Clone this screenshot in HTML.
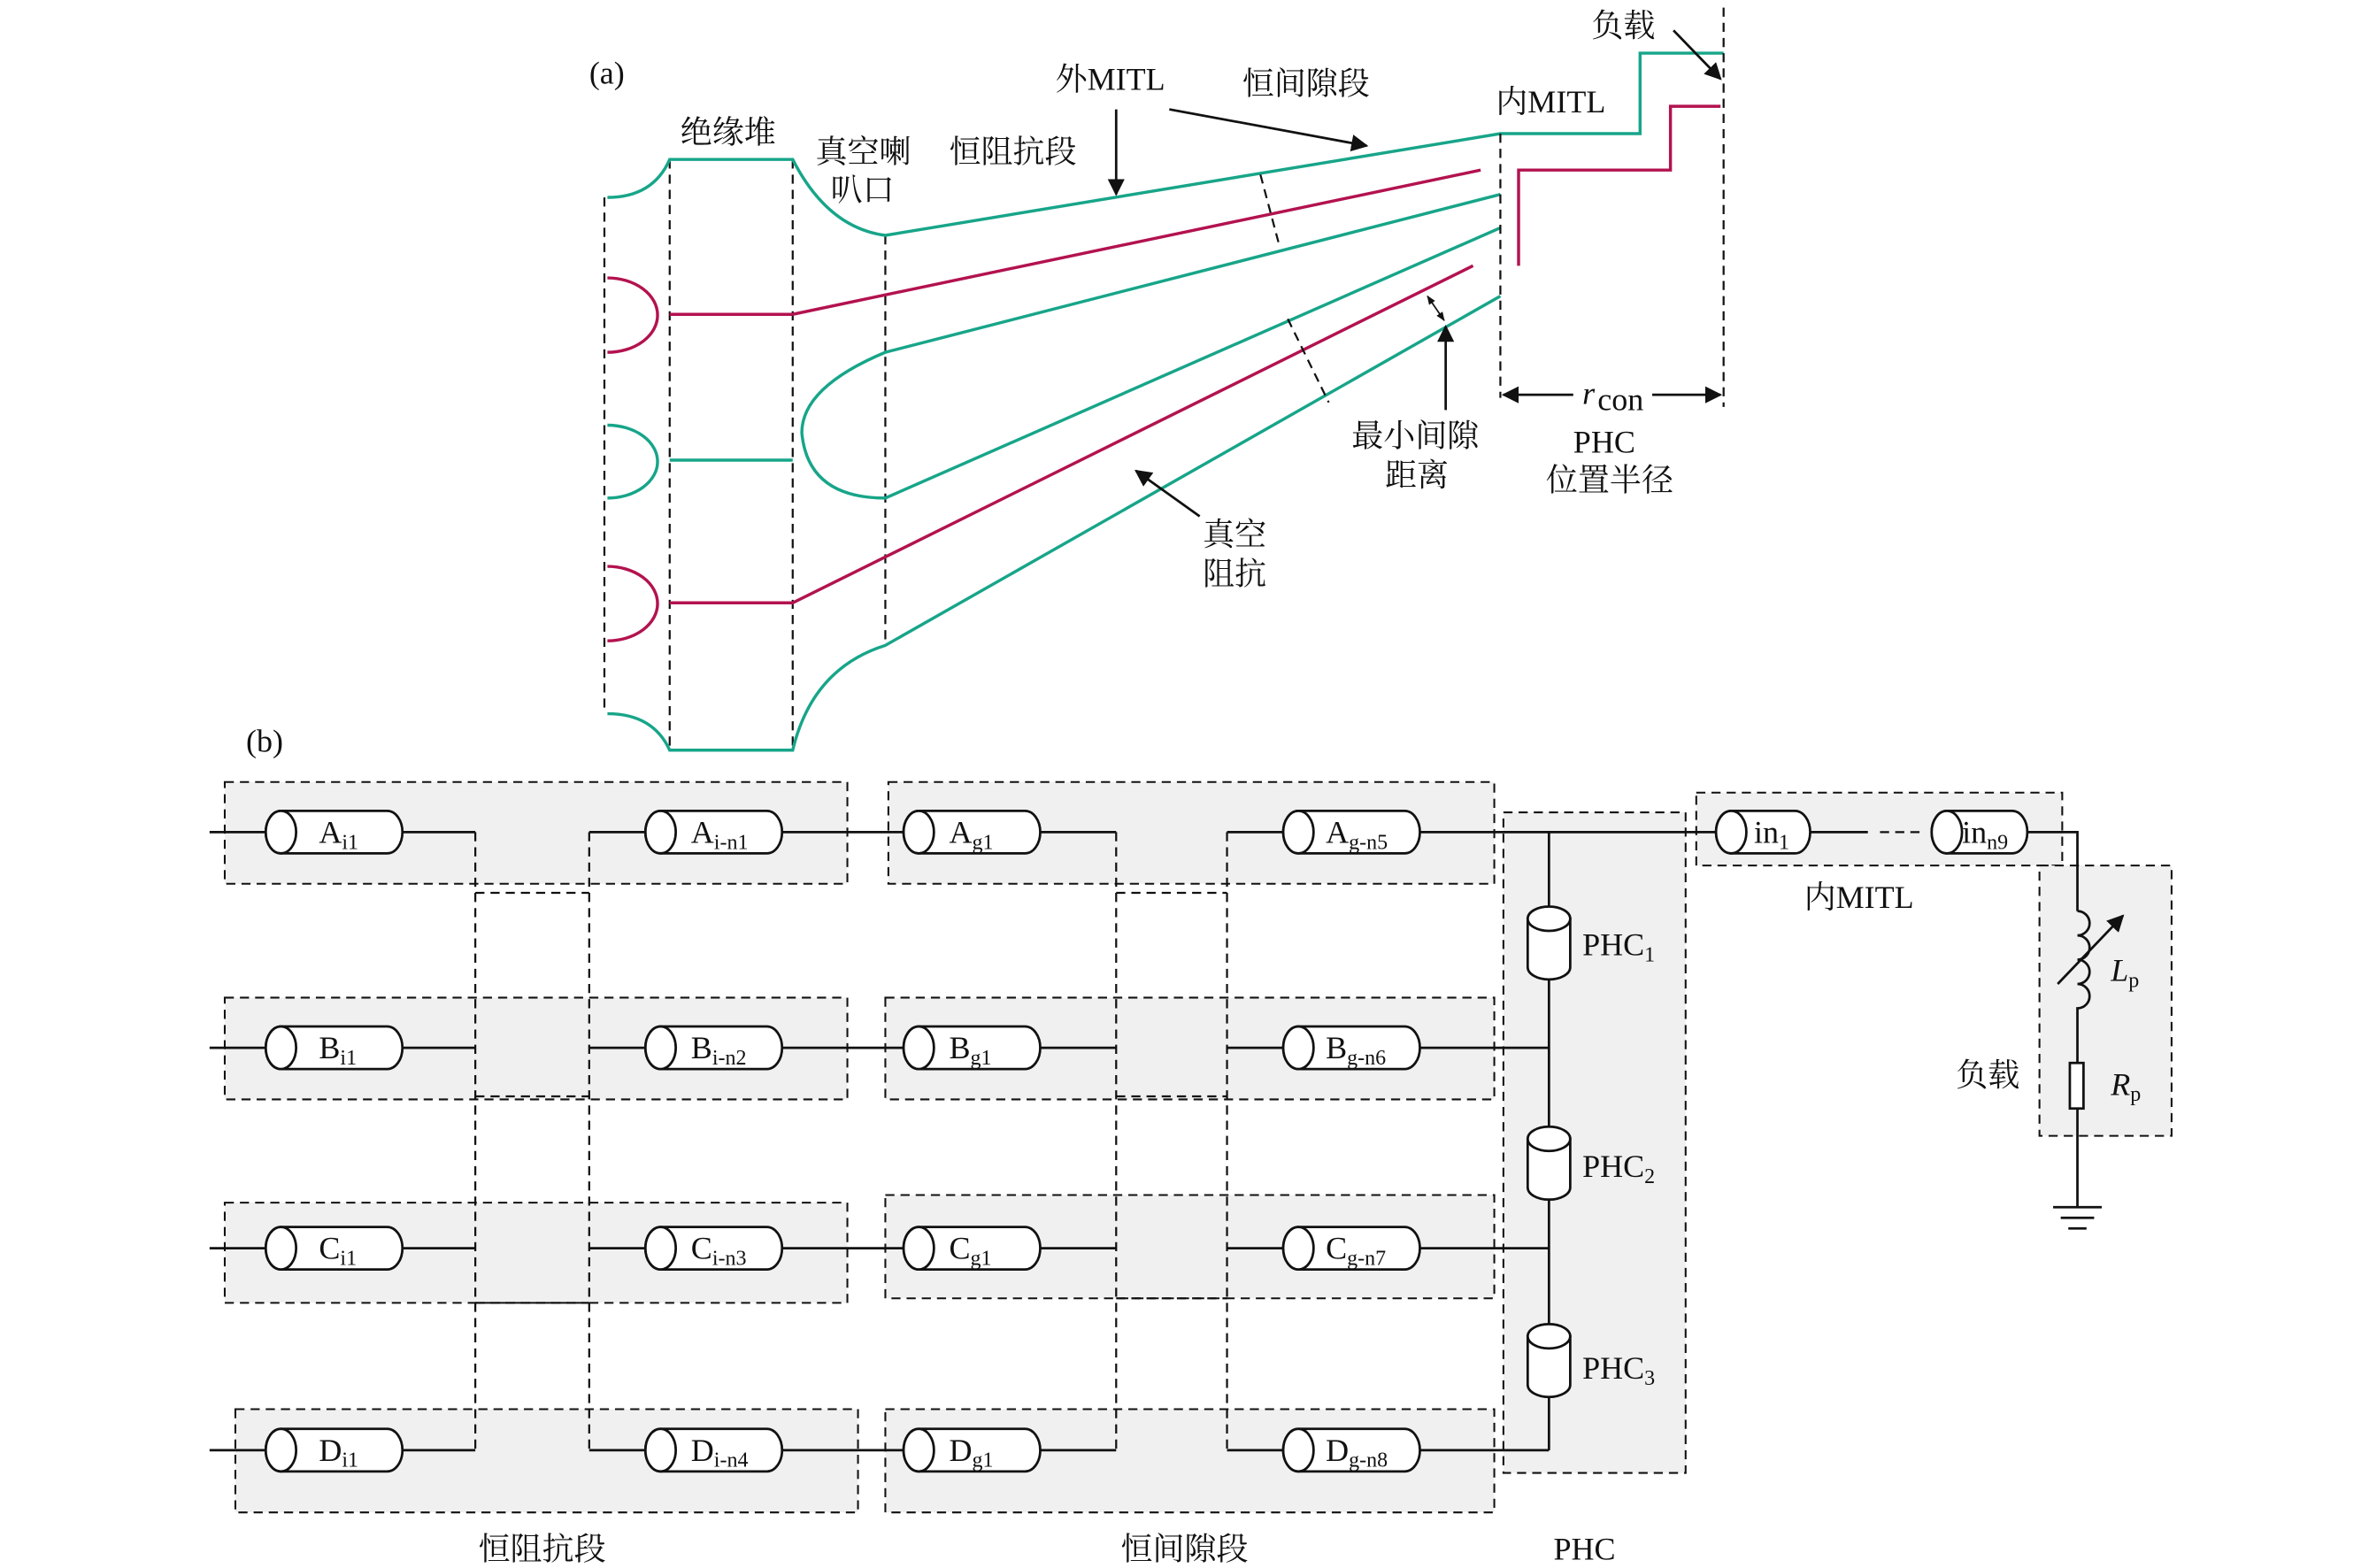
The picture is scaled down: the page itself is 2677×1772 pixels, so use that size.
<!DOCTYPE html>
<html><head><meta charset="utf-8"><style>
html,body{margin:0;padding:0;background:#fff;}
svg{display:block;}
text{font-family:"Liberation Serif","Noto Serif CJK SC",serif;font-size:21px;fill:#111;}
.g{stroke:#17a589;stroke-width:2;fill:none;}
.m{stroke:#b3124f;stroke-width:2;fill:none;}
.d{stroke:#111;stroke-width:1.3;stroke-dasharray:6,4;fill:none;}
.k{stroke:#111;stroke-width:1.6;fill:none;}
.box{fill:#f0f0f0;stroke:#111;stroke-width:1.2;stroke-dasharray:6,4;}
.cy{fill:#fff;stroke:#111;stroke-width:1.6;}
</style></head><body>
<svg width="2677" height="1772" viewBox="0 0 1560 1032.6" xmlns="http://www.w3.org/2000/svg">
<defs>
<marker id="ar" viewBox="0 0 10 10" refX="9" refY="5" markerWidth="7" markerHeight="7" orient="auto-start-reverse"><path d="M0,0L10,5L0,10z" fill="#111"/></marker>
<marker id="sm" viewBox="0 0 10 10" refX="9" refY="5" markerWidth="6" markerHeight="6" markerUnits="userSpaceOnUse" orient="auto-start-reverse"><path d="M0,1L10,5L0,9z" fill="#111"/></marker>
</defs>
<!-- (a) -->
<text x="388" y="55">(a)</text>
<line class="d" x1="398" y1="130" x2="398" y2="470"/>
<line class="d" x1="441" y1="105" x2="441" y2="495"/>
<line class="d" x1="522" y1="105" x2="522" y2="495"/>
<line class="d" x1="583" y1="155" x2="583" y2="425"/>
<path class="g" d="M400,130 Q430,130 441,105 L522,105 Q545,150 583,155 L988,88 L1080,88 L1080,35 L1135,35"/>
<path class="g" d="M400,470 Q430,470 441,494 L522,494 Q535,440 583,425 L988,195"/>
<path class="m" d="M400,183 A33,24.5 0 0 1 400,232"/>
<path class="m" d="M441,207 L522,207 L975,112"/>
<path class="g" d="M400,280 A33,24 0 0 1 400,328"/>
<path class="g" d="M441,303 L522,303"/>
<path class="g" d="M988,128 L583,232 Q528,255 528,285 Q532,328 583,328 L988,150"/>
<path class="m" d="M400,373 A33,24.5 0 0 1 400,422"/>
<path class="m" d="M441,397 L522,397 L970,175"/>
<path class="m" d="M1000,175 L1000,112 L1100,112 L1100,70 L1133,70"/>
<line class="d" x1="988" y1="88" x2="988" y2="262"/>
<line class="d" x1="1135" y1="5" x2="1135" y2="268"/>
<line class="d" x1="830" y1="115" x2="842" y2="160"/>
<line class="d" x1="848" y1="210" x2="875" y2="265"/>
<text x="448" y="94">绝缘堆</text>
<text x="537" y="107">真空喇</text><text x="547" y="132">叭口</text>
<text x="625" y="107">恒阻抗段</text>
<text x="695" y="59">外MITL</text>
<text x="818" y="62">恒间隙段</text>
<text x="985" y="74">内MITL</text>
<text x="1048" y="24">负载</text>
<text x="1042" y="266" font-style="italic">r</text><text x="1052" y="270" font-size="14">con</text>
<text x="1036" y="298">PHC</text>
<text x="1018" y="323">位置半径</text>
<text x="890" y="294">最小间隙</text>
<text x="912" y="320">距离</text>
<text x="792" y="359">真空</text>
<text x="792" y="385">阻抗</text>
<line class="k" x1="735" y1="72" x2="735" y2="128" marker-end="url(#ar)"/>
<line class="k" x1="770" y1="72" x2="900" y2="96" marker-end="url(#ar)"/>
<line class="k" x1="1102" y1="20" x2="1133" y2="52" marker-end="url(#ar)"/>
<line class="k" x1="1036" y1="260" x2="990" y2="260" marker-end="url(#ar)"/>
<line class="k" x1="1088" y1="260" x2="1133" y2="260" marker-end="url(#ar)"/>
<line class="k" x1="952" y1="270" x2="952" y2="215" marker-end="url(#ar)"/>
<line x1="940" y1="195" x2="951" y2="211" stroke="#111" stroke-width="1" marker-start="url(#sm)" marker-end="url(#sm)"/>
<line class="k" x1="790" y1="340" x2="748" y2="310" marker-end="url(#ar)"/>
<!-- (b) -->
<text x="162" y="495">(b)</text>
<rect class="box" x="148" y="515" width="410" height="67"/>
<rect class="box" x="585" y="515" width="399" height="67"/>
<rect class="box" x="148" y="657" width="410" height="67"/>
<rect class="box" x="583" y="657" width="401" height="67"/>
<rect class="box" x="148" y="792" width="410" height="66"/>
<rect class="box" x="583" y="787" width="401" height="68"/>
<rect class="box" x="155" y="928" width="410" height="68"/>
<rect class="box" x="583" y="928" width="401" height="68"/>
<rect class="box" x="990" y="535" width="120" height="435"/>
<rect class="box" x="1117" y="522" width="241" height="48"/>
<rect class="box" x="1343" y="570" width="87" height="178"/>
<g class="d">
<line x1="313" y1="548" x2="313" y2="955"/><line x1="388" y1="548" x2="388" y2="955"/>
<line x1="735" y1="548" x2="735" y2="955"/><line x1="808" y1="548" x2="808" y2="955"/>
<line x1="313" y1="588" x2="388" y2="588"/><line x1="735" y1="588" x2="808" y2="588"/>
<line x1="313" y1="722" x2="388" y2="722"/><line x1="735" y1="722" x2="808" y2="722"/>
<line x1="313" y1="858" x2="388" y2="858"/><line x1="735" y1="855" x2="808" y2="855"/>
</g>
<g class="k">
<path d="M138,548H175M265,548H313M388,548H425M515,548H595M685,548H735M808,548H845M935,548H1130M1192,548H1230M1335,548H1368V600"/>
<path d="M138,690H175M265,690H313M388,690H425M515,690H595M685,690H735M808,690H845M935,690H1020"/>
<path d="M138,822H175M265,822H313M388,822H425M515,822H595M685,822H735M808,822H845M935,822H1020"/>
<path d="M138,955H175M265,955H313M388,955H425M515,955H595M685,955H735M808,955H845M935,955H1020"/>
<path d="M1020,548V597M1020,645V742M1020,790V872M1020,920V955"/>
</g>
<line class="d" x1="1238" y1="548" x2="1266" y2="548"/>
<g class="cy">
<path d="M185,534H255A10,14 0 0 1 255,562H185A10,14 0 0 1 185,534Z"/><ellipse cx="185" cy="548" rx="10" ry="14"/>
<path d="M435,534H505A10,14 0 0 1 505,562H435A10,14 0 0 1 435,534Z"/><ellipse cx="435" cy="548" rx="10" ry="14"/>
<path d="M605,534H675A10,14 0 0 1 675,562H605A10,14 0 0 1 605,534Z"/><ellipse cx="605" cy="548" rx="10" ry="14"/>
<path d="M855,534H925A10,14 0 0 1 925,562H855A10,14 0 0 1 855,534Z"/><ellipse cx="855" cy="548" rx="10" ry="14"/>
<path d="M185,676H255A10,14 0 0 1 255,704H185A10,14 0 0 1 185,676Z"/><ellipse cx="185" cy="690" rx="10" ry="14"/>
<path d="M435,676H505A10,14 0 0 1 505,704H435A10,14 0 0 1 435,676Z"/><ellipse cx="435" cy="690" rx="10" ry="14"/>
<path d="M605,676H675A10,14 0 0 1 675,704H605A10,14 0 0 1 605,676Z"/><ellipse cx="605" cy="690" rx="10" ry="14"/>
<path d="M855,676H925A10,14 0 0 1 925,704H855A10,14 0 0 1 855,676Z"/><ellipse cx="855" cy="690" rx="10" ry="14"/>
<path d="M185,808H255A10,14 0 0 1 255,836H185A10,14 0 0 1 185,808Z"/><ellipse cx="185" cy="822" rx="10" ry="14"/>
<path d="M435,808H505A10,14 0 0 1 505,836H435A10,14 0 0 1 435,808Z"/><ellipse cx="435" cy="822" rx="10" ry="14"/>
<path d="M605,808H675A10,14 0 0 1 675,836H605A10,14 0 0 1 605,808Z"/><ellipse cx="605" cy="822" rx="10" ry="14"/>
<path d="M855,808H925A10,14 0 0 1 925,836H855A10,14 0 0 1 855,808Z"/><ellipse cx="855" cy="822" rx="10" ry="14"/>
<path d="M185,941H255A10,14 0 0 1 255,969H185A10,14 0 0 1 185,941Z"/><ellipse cx="185" cy="955" rx="10" ry="14"/>
<path d="M435,941H505A10,14 0 0 1 505,969H435A10,14 0 0 1 435,941Z"/><ellipse cx="435" cy="955" rx="10" ry="14"/>
<path d="M605,941H675A10,14 0 0 1 675,969H605A10,14 0 0 1 605,941Z"/><ellipse cx="605" cy="955" rx="10" ry="14"/>
<path d="M855,941H925A10,14 0 0 1 925,969H855A10,14 0 0 1 855,941Z"/><ellipse cx="855" cy="955" rx="10" ry="14"/>
<path d="M1140,534H1182A10,14 0 0 1 1182,562H1140A10,14 0 0 1 1140,534Z"/><ellipse cx="1140" cy="548" rx="10" ry="14"/>
<path d="M1282,534H1325A10,14 0 0 1 1325,562H1282A10,14 0 0 1 1282,534Z"/><ellipse cx="1282" cy="548" rx="10" ry="14"/>
<path d="M1006,605V637A14,8 0 0 0 1034,637V605Z"/><ellipse cx="1020" cy="605" rx="14" ry="8"/>
<path d="M1006,750V782A14,8 0 0 0 1034,782V750Z"/><ellipse cx="1020" cy="750" rx="14" ry="8"/>
<path d="M1006,880V912A14,8 0 0 0 1034,912V880Z"/><ellipse cx="1020" cy="880" rx="14" ry="8"/>
</g>
<g font-size="20">
<text x="210" y="555">A<tspan font-size="14" dy="4">i1</tspan></text>
<text x="455" y="555">A<tspan font-size="14" dy="4">i-n1</tspan></text>
<text x="625" y="555">A<tspan font-size="14" dy="4">g1</tspan></text>
<text x="873" y="555">A<tspan font-size="14" dy="4">g-n5</tspan></text>
<text x="210" y="697">B<tspan font-size="14" dy="4">i1</tspan></text>
<text x="455" y="697">B<tspan font-size="14" dy="4">i-n2</tspan></text>
<text x="625" y="697">B<tspan font-size="14" dy="4">g1</tspan></text>
<text x="873" y="697">B<tspan font-size="14" dy="4">g-n6</tspan></text>
<text x="210" y="829">C<tspan font-size="14" dy="4">i1</tspan></text>
<text x="455" y="829">C<tspan font-size="14" dy="4">i-n3</tspan></text>
<text x="625" y="829">C<tspan font-size="14" dy="4">g1</tspan></text>
<text x="873" y="829">C<tspan font-size="14" dy="4">g-n7</tspan></text>
<text x="210" y="962">D<tspan font-size="14" dy="4">i1</tspan></text>
<text x="455" y="962">D<tspan font-size="14" dy="4">i-n4</tspan></text>
<text x="625" y="962">D<tspan font-size="14" dy="4">g1</tspan></text>
<text x="873" y="962">D<tspan font-size="14" dy="4">g-n8</tspan></text>
<text x="1155" y="555">in<tspan font-size="14" dy="4">1</tspan></text>
<text x="1292" y="555">in<tspan font-size="14" dy="4">n9</tspan></text>
<text x="1042" y="629">PHC<tspan font-size="14" dy="4">1</tspan></text>
<text x="1042" y="775">PHC<tspan font-size="14" dy="4">2</tspan></text>
<text x="1042" y="908">PHC<tspan font-size="14" dy="4">3</tspan></text>
</g>
<path class="k" d="M1368,600 A8,8 0 0 1 1368,616 A8,8 0 0 1 1368,632 A8,8 0 0 1 1368,648 A8,8 0 0 1 1368,664 V700"/>
<line class="k" x1="1355" y1="648" x2="1398" y2="603" marker-end="url(#ar)"/>
<rect x="1363" y="700" width="9" height="30" fill="#fff" stroke="#111" stroke-width="1.6"/>
<path class="k" d="M1368,730V795M1352,795H1384M1357,802H1379M1362,809H1374"/>
<text x="1390" y="646" font-style="italic">L<tspan font-size="14" dy="4" font-style="normal">p</tspan></text>
<text x="1390" y="721" font-style="italic">R<tspan font-size="14" dy="4" font-style="normal">p</tspan></text>
<text x="1288" y="715">负载</text>
<text x="1188" y="598">内MITL</text>
<text x="315" y="1027">恒阻抗段</text>
<text x="738" y="1027">恒间隙段</text>
<text x="1023" y="1027">PHC</text>
</svg>
</body></html>
